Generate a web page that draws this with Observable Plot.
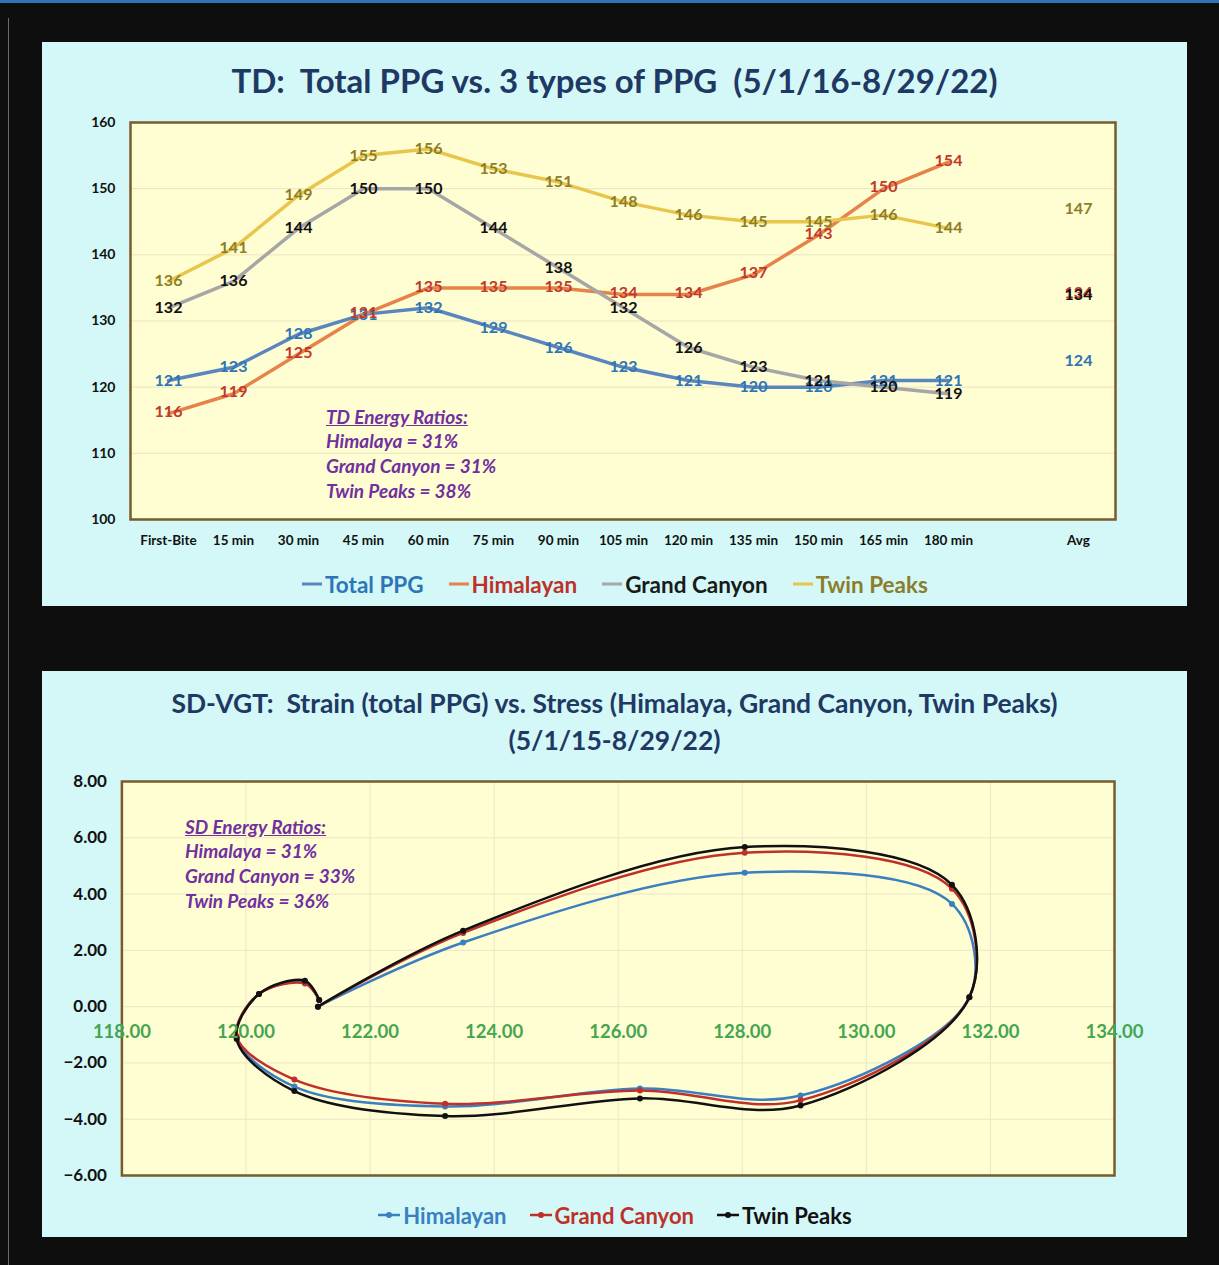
<!DOCTYPE html>
<html><head><meta charset="utf-8">
<script src="https://cdn.jsdelivr.net/npm/d3@7"></script>
<script src="https://cdn.jsdelivr.net/npm/@observablehq/plot@0.6"></script>
<style>
body{margin:0;background:#0e0e0e;width:1219px;height:1265px;overflow:hidden;position:relative;font-family:Lato,"Open Sans",sans-serif;}
#topline{position:absolute;left:0;top:0;width:1219px;height:3px;background:#2e75b6;}
#leftline{position:absolute;left:8px;top:18px;width:1px;height:1247px;background:#6a6a6a;}
.panel{position:absolute;left:42px;width:1145px;background:#d3f8f7;}
#p1{top:42px;height:564px;}
#p2{top:671px;height:566px;}
.title{position:absolute;left:0;width:100%;text-align:center;color:#1f3864;font-weight:700;}
.chart{position:absolute;left:0;}
.energy{position:absolute;color:#7030a0;font-style:italic;font-weight:700;font-size:19px;line-height:24.7px;white-space:nowrap;}
.energy .u{text-decoration:underline;}
.legend{position:absolute;left:0;width:100%;display:flex;justify-content:center;align-items:center;font-weight:700;}
.legend .item{display:flex;align-items:center;}
.legend svg{display:block;}
</style></head>
<body>
<div id="topline"></div>
<div id="leftline"></div>
<div class="panel" id="p1">
  <div class="title" style="top:18px;height:40px;line-height:40px;font-size:33px;">TD:&nbsp; Total PPG vs. 3 types of PPG&nbsp; (5/1/16-8/29/22)</div>
  <div class="chart" id="c1" style="top:68px;"></div>
  <div class="energy" id="e1" style="left:284px;top:362.6px;"></div>
  <div class="legend" id="l1" style="top:527px;height:30px;font-size:22.5px;"></div>
</div>
<div class="panel" id="p2">
  <div class="title" style="top:14px;line-height:37px;font-size:26.5px;">SD-VGT:&nbsp; Strain (total PPG) vs. Stress (Himalaya, Grand Canyon, Twin Peaks)<br>(5/1/15-8/29/22)</div>
  <div class="chart" id="c2" style="top:99px;"></div>
  <div class="energy" id="e2" style="left:143px;top:143.6px;"></div>
  <div class="legend" id="l2" style="top:529px;height:30px;font-size:22px;"></div>
</div>
<script>
// ---------- Chart 1 data ----------
const categories = ["First-Bite","15 min","30 min","45 min","60 min","75 min","90 min","105 min","120 min","135 min","150 min","165 min","180 min"," ","Avg"];
const timeCats = categories.slice(0, 13);
const totalPPG    = [121,123,128,131,132,129,126,123,121,120,120,121,121];
const himalayan   = [116,119,125,131,135,135,135,134,134,137,143,150,154];
const grandCanyon = [132,136,144,150,150,144,138,132,126,123,121,120,119];
const twinPeaks   = [136,141,149,155,156,153,151,148,146,145,145,146,144];
const avgValues   = [124,134,134,147]; // Total PPG, Himalayan, Grand Canyon, Twin Peaks
const seriesNames1 = ["Total PPG","Himalayan","Grand Canyon","Twin Peaks"];
const yTicks1 = [100,110,120,130,140,150,160];
const energy1 = ["TD Energy Ratios:","Himalaya = 31%","Grand Canyon = 31%","Twin Peaks = 38%"];

// ---------- Chart 2 data (x = total PPG, y = stress) ----------
const sdX = [121.16,123.50,128.04,131.38,131.66,128.94,126.35,123.21,120.78,119.85,120.21,120.95,121.18];
const sdHimalayan   = [0.00,2.28,4.76,3.65,0.33,-3.16,-2.91,-3.55,-2.84,-1.10,0.45,0.85,0.24];
const sdGrandCanyon = [0.00,2.62,5.47,4.19,0.33,-3.33,-2.98,-3.45,-2.59,-1.05,0.45,0.82,0.24];
const sdTwinPeaks   = [0.00,2.70,5.67,4.33,0.33,-3.51,-3.26,-3.89,-3.00,-1.15,0.45,0.92,0.24];
const seriesNames2 = ["Himalayan","Grand Canyon","Twin Peaks"];
const xTicks2 = [118,120,122,124,126,128,130,132,134];
const yTicks2 = [-6,-4,-2,0,2,4,6,8];
const energy2 = ["SD Energy Ratios:","Himalaya = 31%","Grand Canyon = 33%","Twin Peaks = 36%"];

// ---------- styles ----------
const lineColors1  = ["#5a86bf","#e5834a","#a6a6a6","#e8c64c"];
const labelColors1 = ["#2e75b6","#c0392b","#111111","#8c7e25"];
const legendText1  = ["#2e75b6","#c0302a","#1a1a1a","#8b7d2b"];
const colors2 = ["#3a7fc1","#c0302a","#111111"];

// ---------- Chart 1 ----------
const vals1 = [totalPPG, himalayan, grandCanyon, twinPeaks];
const marks1 = [
  Plot.frame({fill:"#fffdd2"}),
  Plot.gridY(yTicks1.slice(1,-1), {stroke:"#e9e4c2", strokeOpacity:1})
];
vals1.forEach((vals, s) => {
  const rows = timeCats.map((c,i) => ({cat:c, v:vals[i]}));
  marks1.push(Plot.line(rows, {x:"cat", y:"v", stroke:lineColors1[s], strokeWidth:3.5}));
});
vals1.forEach((vals, s) => {
  const rows = timeCats.map((c,i) => ({cat:c, v:vals[i]}));
  rows.push({cat:"Avg", v:avgValues[s]});
  marks1.push(Plot.text(rows, {x:"cat", y:"v", text:d=>String(d.v), fill:labelColors1[s], fontSize:16, fontWeight:700, dy: s === 1 ? -1.5 : 0}));
});
marks1.push(
  Plot.frame({stroke:"#7b5a2c", strokeWidth:2.5}),
  Plot.axisY({ticks:yTicks1, tickSize:0, tickPadding:15, fontSize:14, fontWeight:700, fill:"#111"}),
  Plot.axisX({tickSize:0, tickPadding:16, fontSize:13.5, fontWeight:700, fill:"#111"})
);
const chart1 = Plot.plot({
  width:1145, height:450, marginLeft:88, marginRight:72, marginTop:12, marginBottom:41,
  style:{background:"transparent", fontFamily:"Lato, 'Open Sans', sans-serif", fontWeight:700, overflow:"visible"},
  x:{type:"point", domain:categories, padding:0.5, label:null},
  y:{domain:[100,160], label:null},
  marks:marks1
});
document.getElementById("c1").appendChild(chart1);

// ---------- Chart 2 ----------
const vals2 = [sdHimalayan, sdGrandCanyon, sdTwinPeaks];
const marks2 = [
  Plot.frame({fill:"#fffdd2"}),
  Plot.gridX(xTicks2.slice(1,-1), {stroke:"#ebe6c6", strokeOpacity:1}),
  Plot.gridY(yTicks2.slice(1,-1), {stroke:"#ebe6c6", strokeOpacity:1})
];
vals2.forEach((vals, s) => {
  const rows = sdX.map((x,i) => ({x, y:vals[i]}));
  marks2.push(Plot.line(rows, {x:"x", y:"y", stroke:colors2[s], strokeWidth:2.5, curve:"catmull-rom"}));
  marks2.push(Plot.dot(rows, {x:"x", y:"y", r:3, fill:colors2[s], stroke:"none"}));
});
marks2.push(
  Plot.frame({stroke:"#7b5a2c", strokeWidth:2.5}),
  Plot.axisY({ticks:yTicks2, tickFormat:d3.format(".2f"), tickSize:0, tickPadding:15, fontSize:17, fontWeight:700, fill:"#111"}),
  Plot.text(xTicks2, {x:d=>d, y:0, dy:25, text:d=>d.toFixed(2), fill:"#45a550", fontSize:18.5, fontWeight:700})
);
const chart2 = Plot.plot({
  width:1145, height:420, marginLeft:79.4, marginRight:73, marginTop:11, marginBottom:15,
  style:{background:"transparent", fontFamily:"Lato, 'Open Sans', sans-serif", fontWeight:700, overflow:"visible"},
  x:{domain:[118,134], label:null, axis:null},
  y:{domain:[-6,8], label:null},
  marks:marks2
});
document.getElementById("c2").appendChild(chart2);

// ---------- energy annotations ----------
function fillEnergy(id, lines){
  const el = document.getElementById(id);
  lines.forEach((t,i) => {
    const d = document.createElement("div");
    d.textContent = t;
    if (i === 0) d.className = "u";
    el.appendChild(d);
  });
}
fillEnergy("e1", energy1);
fillEnergy("e2", energy2);

// ---------- legends ----------
const l1 = document.getElementById("l1");
seriesNames1.forEach((n,s) => {
  const it = document.createElement("div");
  it.className = "item";
  it.style.margin = "0 12px";
  it.innerHTML = `<svg width="22" height="10"><line x1="1" y1="5" x2="21" y2="5" stroke="${lineColors1[s]}" stroke-width="3"/></svg><span style="color:${legendText1[s]};margin-left:2px">${n}</span>`;
  l1.appendChild(it);
});
const l2 = document.getElementById("l2");
seriesNames2.forEach((n,s) => {
  const it = document.createElement("div");
  it.className = "item";
  it.style.margin = "0 11px";
  it.innerHTML = `<svg width="24" height="10"><line x1="1" y1="5" x2="23" y2="5" stroke="${colors2[s]}" stroke-width="2.5"/><circle cx="12" cy="5" r="3" fill="${colors2[s]}"/></svg><span style="color:${colors2[s]};margin-left:2px">${n}</span>`;
  l2.appendChild(it);
});
</script>
</body></html>
